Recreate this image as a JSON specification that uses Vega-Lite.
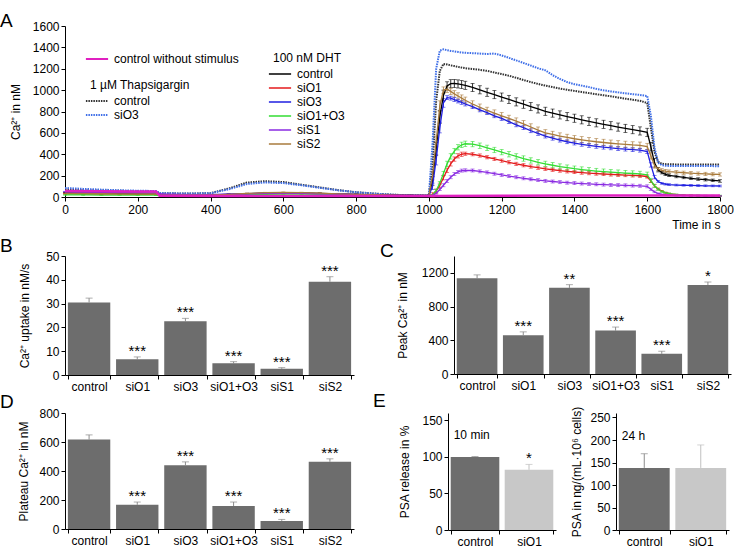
{
"$schema":"https://vega.github.io/schema/vega-lite/v6.json",
"padding":{"left":0,"top":12,"right":0,"bottom":0},
"config":{"font":"Liberation Sans","view":{"stroke":null},
"axis":{"grid":false,"domainColor":"black","tickColor":"black","labelColor":"black","titleColor":"black","labelFontSize":12,"titleFontSize":12,"titleFontWeight":"normal","tickSize":4,"labelPadding":2,"labelOverlap":false,"labelFlush":false},
"title":{"fontSize":19,"fontWeight":"normal","anchor":"start","frame":"group","baseline":"alphabetic","color":"black"},
"legend":{"labelFontSize":12,"titleFontSize":12,"titleFontWeight":"normal","labelColor":"black","titleColor":"black"}},
"datasets":{
"proto":[{"ph":1,"p":"0.5 Ca","t0":0,"t1":250,"lx":68},{"ph":2,"p":"0 Ca","t0":250,"t1":380,"lx":258},{"ph":3,"p":"0 Ca + stimulus","t0":380,"t1":1020,"lx":400},{"ph":4,"p":"2 Ca + stimulus","t0":1020,"t1":1600,"lx":1033},{"ph":5,"p":"0 Ca + stimulus","t0":1600,"t1":1800,"lx":1611}],
"ns":[{"s":"control without stimulus","t":0,"v":55},{"s":"control without stimulus","t":100,"v":53},{"s":"control without stimulus","t":200,"v":52},{"s":"control without stimulus","t":250,"v":51},{"s":"control without stimulus","t":260,"v":12},{"s":"control without stimulus","t":400,"v":10},{"s":"control without stimulus","t":600,"v":9},{"s":"control without stimulus","t":800,"v":9},{"s":"control without stimulus","t":1000,"v":10},{"s":"control without stimulus","t":1200,"v":12},{"s":"control without stimulus","t":1400,"v":13},{"s":"control without stimulus","t":1600,"v":14},{"s":"control without stimulus","t":1800,"v":14}],
"tg":[
{"s":"control","t":0,"v":70},{"s":"control","t":50,"v":65},{"s":"control","t":100,"v":61},{"s":"control","t":150,"v":58},{"s":"control","t":200,"v":55},{"s":"control","t":250,"v":52},{"s":"control","t":260,"v":36},{"s":"control","t":300,"v":34},{"s":"control","t":350,"v":33},{"s":"control","t":400,"v":36},{"s":"control","t":450,"v":80},{"s":"control","t":500,"v":135},{"s":"control","t":550,"v":148},{"s":"control","t":600,"v":140},{"s":"control","t":650,"v":115},{"s":"control","t":700,"v":90},{"s":"control","t":750,"v":65},{"s":"control","t":800,"v":45},{"s":"control","t":850,"v":32},{"s":"control","t":900,"v":22},{"s":"control","t":950,"v":15},{"s":"control","t":1000,"v":12},
{"s":"control","t":1010,"v":300},{"s":"control","t":1020,"v":900},{"s":"control","t":1030,"v":1180},{"s":"control","t":1040,"v":1245},{"s":"control","t":1050,"v":1240},{"s":"control","t":1060,"v":1232},{"s":"control","t":1070,"v":1225},{"s":"control","t":1080,"v":1218},{"s":"control","t":1090,"v":1211},{"s":"control","t":1100,"v":1205},
{"s":"control","t":1120,"v":1198},{"s":"control","t":1140,"v":1190},{"s":"control","t":1160,"v":1180},{"s":"control","t":1180,"v":1165},{"s":"control","t":1200,"v":1150},{"s":"control","t":1220,"v":1135},{"s":"control","t":1240,"v":1115},{"s":"control","t":1260,"v":1095},{"s":"control","t":1280,"v":1075},{"s":"control","t":1300,"v":1058},{"s":"control","t":1320,"v":1042},{"s":"control","t":1340,"v":1028},{"s":"control","t":1360,"v":1015},{"s":"control","t":1380,"v":1003},{"s":"control","t":1400,"v":993},{"s":"control","t":1420,"v":982},{"s":"control","t":1440,"v":972},{"s":"control","t":1460,"v":962},{"s":"control","t":1480,"v":952},{"s":"control","t":1500,"v":942},{"s":"control","t":1520,"v":931},{"s":"control","t":1540,"v":920},{"s":"control","t":1560,"v":910},{"s":"control","t":1580,"v":900},{"s":"control","t":1600,"v":880},
{"s":"control","t":1610,"v":650},{"s":"control","t":1620,"v":420},{"s":"control","t":1630,"v":330},{"s":"control","t":1640,"v":312},{"s":"control","t":1650,"v":308},{"s":"control","t":1660,"v":306},{"s":"control","t":1680,"v":305},{"s":"control","t":1700,"v":305},{"s":"control","t":1720,"v":305},{"s":"control","t":1740,"v":305},{"s":"control","t":1760,"v":304},{"s":"control","t":1780,"v":304},{"s":"control","t":1800,"v":304},
{"s":"siO3","t":0,"v":85},{"s":"siO3","t":50,"v":76},{"s":"siO3","t":100,"v":69},{"s":"siO3","t":150,"v":63},{"s":"siO3","t":200,"v":59},{"s":"siO3","t":250,"v":56},{"s":"siO3","t":260,"v":37},{"s":"siO3","t":300,"v":34},{"s":"siO3","t":350,"v":33},{"s":"siO3","t":400,"v":35},{"s":"siO3","t":450,"v":72},{"s":"siO3","t":500,"v":122},{"s":"siO3","t":550,"v":136},{"s":"siO3","t":600,"v":130},{"s":"siO3","t":650,"v":110},{"s":"siO3","t":700,"v":86},{"s":"siO3","t":750,"v":63},{"s":"siO3","t":800,"v":44},{"s":"siO3","t":850,"v":31},{"s":"siO3","t":900,"v":21},{"s":"siO3","t":950,"v":14},{"s":"siO3","t":1000,"v":12},
{"s":"siO3","t":1010,"v":500},{"s":"siO3","t":1020,"v":1200},{"s":"siO3","t":1030,"v":1370},{"s":"siO3","t":1040,"v":1382},{"s":"siO3","t":1050,"v":1374},{"s":"siO3","t":1060,"v":1367},{"s":"siO3","t":1070,"v":1362},{"s":"siO3","t":1080,"v":1357},{"s":"siO3","t":1090,"v":1352},{"s":"siO3","t":1100,"v":1349},
{"s":"siO3","t":1120,"v":1346},{"s":"siO3","t":1140,"v":1342},{"s":"siO3","t":1160,"v":1338},{"s":"siO3","t":1180,"v":1342},{"s":"siO3","t":1200,"v":1325},{"s":"siO3","t":1220,"v":1302},{"s":"siO3","t":1240,"v":1278},{"s":"siO3","t":1260,"v":1254},{"s":"siO3","t":1280,"v":1230},{"s":"siO3","t":1300,"v":1205},{"s":"siO3","t":1320,"v":1185},{"s":"siO3","t":1340,"v":1140},{"s":"siO3","t":1360,"v":1105},{"s":"siO3","t":1380,"v":1075},{"s":"siO3","t":1400,"v":1055},{"s":"siO3","t":1420,"v":1042},{"s":"siO3","t":1440,"v":1028},{"s":"siO3","t":1460,"v":1012},{"s":"siO3","t":1480,"v":998},{"s":"siO3","t":1500,"v":988},{"s":"siO3","t":1520,"v":979},{"s":"siO3","t":1540,"v":970},{"s":"siO3","t":1560,"v":962},{"s":"siO3","t":1580,"v":955},{"s":"siO3","t":1600,"v":945},
{"s":"siO3","t":1610,"v":760},{"s":"siO3","t":1620,"v":460},{"s":"siO3","t":1630,"v":320},{"s":"siO3","t":1640,"v":298},{"s":"siO3","t":1650,"v":293},{"s":"siO3","t":1660,"v":291},{"s":"siO3","t":1680,"v":290},{"s":"siO3","t":1700,"v":290},{"s":"siO3","t":1720,"v":290},{"s":"siO3","t":1740,"v":289},{"s":"siO3","t":1760,"v":289},{"s":"siO3","t":1780,"v":289},{"s":"siO3","t":1800,"v":288}],
"dht":[
{"s":"control","t":0,"v":40,"e":3},{"s":"control","t":50,"v":38,"e":3},{"s":"control","t":100,"v":36,"e":3},{"s":"control","t":150,"v":34,"e":3},{"s":"control","t":200,"v":32,"e":3},{"s":"control","t":250,"v":30,"e":3},{"s":"control","t":260,"v":22,"e":3},{"s":"control","t":300,"v":20,"e":3},{"s":"control","t":350,"v":19,"e":3},{"s":"control","t":400,"v":20,"e":3},{"s":"control","t":450,"v":24,"e":3},{"s":"control","t":500,"v":30,"e":3},{"s":"control","t":550,"v":36,"e":3},{"s":"control","t":600,"v":40,"e":3},{"s":"control","t":650,"v":38,"e":3},{"s":"control","t":700,"v":34,"e":3},{"s":"control","t":750,"v":29,"e":3},{"s":"control","t":800,"v":24,"e":3},{"s":"control","t":850,"v":20,"e":3},{"s":"control","t":900,"v":17,"e":3},{"s":"control","t":950,"v":15,"e":3},{"s":"control","t":1000,"v":14,"e":3},
{"s":"control","t":1010,"v":150,"e":40},{"s":"control","t":1020,"v":450,"e":60},{"s":"control","t":1030,"v":750,"e":60},{"s":"control","t":1040,"v":950,"e":50},{"s":"control","t":1050,"v":1040,"e":38},{"s":"control","t":1060,"v":1060,"e":38},{"s":"control","t":1070,"v":1062,"e":38},{"s":"control","t":1080,"v":1058,"e":38},{"s":"control","t":1090,"v":1052,"e":38},{"s":"control","t":1100,"v":1045,"e":38},
{"s":"control","t":1120,"v":1025,"e":38},{"s":"control","t":1140,"v":1003,"e":38},{"s":"control","t":1160,"v":980,"e":38},{"s":"control","t":1180,"v":958,"e":38},{"s":"control","t":1200,"v":935,"e":38},{"s":"control","t":1220,"v":913,"e":38},{"s":"control","t":1240,"v":890,"e":38},{"s":"control","t":1260,"v":868,"e":38},{"s":"control","t":1280,"v":846,"e":38},{"s":"control","t":1300,"v":824,"e":38},{"s":"control","t":1320,"v":802,"e":38},{"s":"control","t":1340,"v":785,"e":38},{"s":"control","t":1360,"v":768,"e":38},{"s":"control","t":1380,"v":752,"e":38},{"s":"control","t":1400,"v":737,"e":38},{"s":"control","t":1420,"v":722,"e":38},{"s":"control","t":1440,"v":708,"e":38},{"s":"control","t":1460,"v":694,"e":38},{"s":"control","t":1480,"v":680,"e":38},{"s":"control","t":1500,"v":667,"e":38},{"s":"control","t":1520,"v":654,"e":38},{"s":"control","t":1540,"v":642,"e":38},{"s":"control","t":1560,"v":630,"e":38},{"s":"control","t":1580,"v":618,"e":38},{"s":"control","t":1600,"v":605,"e":38},
{"s":"control","t":1610,"v":470,"e":40},{"s":"control","t":1620,"v":320,"e":40},{"s":"control","t":1630,"v":255,"e":20},{"s":"control","t":1640,"v":228,"e":12},{"s":"control","t":1650,"v":212,"e":12},{"s":"control","t":1660,"v":203,"e":12},{"s":"control","t":1680,"v":192,"e":12},{"s":"control","t":1700,"v":183,"e":12},{"s":"control","t":1720,"v":175,"e":12},{"s":"control","t":1740,"v":168,"e":12},{"s":"control","t":1760,"v":162,"e":12},{"s":"control","t":1780,"v":156,"e":12},{"s":"control","t":1800,"v":150,"e":12},
{"s":"siO1","t":0,"v":30,"e":3},{"s":"siO1","t":50,"v":28,"e":3},{"s":"siO1","t":100,"v":27,"e":3},{"s":"siO1","t":150,"v":26,"e":3},{"s":"siO1","t":200,"v":25,"e":3},{"s":"siO1","t":250,"v":24,"e":3},{"s":"siO1","t":260,"v":18,"e":3},{"s":"siO1","t":300,"v":15,"e":3},{"s":"siO1","t":350,"v":14,"e":3},{"s":"siO1","t":400,"v":15,"e":3},{"s":"siO1","t":450,"v":20,"e":3},{"s":"siO1","t":500,"v":28,"e":3},{"s":"siO1","t":550,"v":35,"e":3},{"s":"siO1","t":600,"v":38,"e":3},{"s":"siO1","t":650,"v":36,"e":3},{"s":"siO1","t":700,"v":32,"e":3},{"s":"siO1","t":750,"v":27,"e":3},{"s":"siO1","t":800,"v":22,"e":3},{"s":"siO1","t":850,"v":18,"e":3},{"s":"siO1","t":900,"v":15,"e":3},{"s":"siO1","t":950,"v":13,"e":3},{"s":"siO1","t":1000,"v":12,"e":3},
{"s":"siO1","t":1010,"v":20,"e":20},{"s":"siO1","t":1020,"v":55,"e":20},{"s":"siO1","t":1030,"v":110,"e":20},{"s":"siO1","t":1040,"v":180,"e":20},{"s":"siO1","t":1050,"v":250,"e":20},{"s":"siO1","t":1060,"v":310,"e":20},{"s":"siO1","t":1070,"v":355,"e":20},{"s":"siO1","t":1080,"v":385,"e":20},{"s":"siO1","t":1090,"v":400,"e":20},{"s":"siO1","t":1100,"v":405,"e":15},
{"s":"siO1","t":1120,"v":400,"e":15},{"s":"siO1","t":1140,"v":388,"e":15},{"s":"siO1","t":1160,"v":372,"e":15},{"s":"siO1","t":1180,"v":356,"e":15},{"s":"siO1","t":1200,"v":340,"e":15},{"s":"siO1","t":1220,"v":325,"e":15},{"s":"siO1","t":1240,"v":310,"e":15},{"s":"siO1","t":1260,"v":297,"e":15},{"s":"siO1","t":1280,"v":285,"e":15},{"s":"siO1","t":1300,"v":274,"e":15},{"s":"siO1","t":1320,"v":264,"e":15},{"s":"siO1","t":1340,"v":255,"e":15},{"s":"siO1","t":1360,"v":247,"e":15},{"s":"siO1","t":1380,"v":240,"e":15},{"s":"siO1","t":1400,"v":234,"e":15},{"s":"siO1","t":1420,"v":228,"e":15},{"s":"siO1","t":1440,"v":223,"e":15},{"s":"siO1","t":1460,"v":219,"e":15},{"s":"siO1","t":1480,"v":215,"e":15},{"s":"siO1","t":1500,"v":211,"e":15},{"s":"siO1","t":1520,"v":208,"e":15},{"s":"siO1","t":1540,"v":205,"e":15},{"s":"siO1","t":1560,"v":202,"e":15},{"s":"siO1","t":1580,"v":199,"e":15},{"s":"siO1","t":1600,"v":192,"e":15},
{"s":"siO1","t":1610,"v":150,"e":15},{"s":"siO1","t":1620,"v":105,"e":12},{"s":"siO1","t":1630,"v":75,"e":8},{"s":"siO1","t":1640,"v":55,"e":6},{"s":"siO1","t":1650,"v":40,"e":5},{"s":"siO1","t":1660,"v":32,"e":5},{"s":"siO1","t":1680,"v":22,"e":4},{"s":"siO1","t":1700,"v":17,"e":4},{"s":"siO1","t":1720,"v":14,"e":4},{"s":"siO1","t":1740,"v":12,"e":4},{"s":"siO1","t":1760,"v":11,"e":4},{"s":"siO1","t":1780,"v":10,"e":4},{"s":"siO1","t":1800,"v":10,"e":4},
{"s":"siO3","t":0,"v":45,"e":3},{"s":"siO3","t":50,"v":42,"e":3},{"s":"siO3","t":100,"v":40,"e":3},{"s":"siO3","t":150,"v":38,"e":3},{"s":"siO3","t":200,"v":36,"e":3},{"s":"siO3","t":250,"v":34,"e":3},{"s":"siO3","t":260,"v":25,"e":3},{"s":"siO3","t":300,"v":22,"e":3},{"s":"siO3","t":350,"v":21,"e":3},{"s":"siO3","t":400,"v":22,"e":3},{"s":"siO3","t":450,"v":26,"e":3},{"s":"siO3","t":500,"v":32,"e":3},{"s":"siO3","t":550,"v":36,"e":3},{"s":"siO3","t":600,"v":38,"e":3},{"s":"siO3","t":650,"v":36,"e":3},{"s":"siO3","t":700,"v":32,"e":3},{"s":"siO3","t":750,"v":28,"e":3},{"s":"siO3","t":800,"v":24,"e":3},{"s":"siO3","t":850,"v":20,"e":3},{"s":"siO3","t":900,"v":17,"e":3},{"s":"siO3","t":950,"v":15,"e":3},{"s":"siO3","t":1000,"v":14,"e":3},
{"s":"siO3","t":1010,"v":100,"e":30},{"s":"siO3","t":1020,"v":350,"e":50},{"s":"siO3","t":1030,"v":650,"e":50},{"s":"siO3","t":1040,"v":880,"e":40},{"s":"siO3","t":1050,"v":930,"e":18},{"s":"siO3","t":1060,"v":925,"e":18},{"s":"siO3","t":1070,"v":912,"e":18},{"s":"siO3","t":1080,"v":898,"e":18},{"s":"siO3","t":1090,"v":885,"e":18},{"s":"siO3","t":1100,"v":870,"e":18},
{"s":"siO3","t":1120,"v":845,"e":18},{"s":"siO3","t":1140,"v":815,"e":18},{"s":"siO3","t":1160,"v":790,"e":18},{"s":"siO3","t":1180,"v":760,"e":18},{"s":"siO3","t":1200,"v":735,"e":18},{"s":"siO3","t":1220,"v":705,"e":18},{"s":"siO3","t":1240,"v":675,"e":18},{"s":"siO3","t":1260,"v":650,"e":18},{"s":"siO3","t":1280,"v":620,"e":18},{"s":"siO3","t":1300,"v":595,"e":18},{"s":"siO3","t":1320,"v":570,"e":18},{"s":"siO3","t":1340,"v":550,"e":18},{"s":"siO3","t":1360,"v":532,"e":18},{"s":"siO3","t":1380,"v":517,"e":18},{"s":"siO3","t":1400,"v":505,"e":18},{"s":"siO3","t":1420,"v":493,"e":18},{"s":"siO3","t":1440,"v":483,"e":18},{"s":"siO3","t":1460,"v":474,"e":18},{"s":"siO3","t":1480,"v":466,"e":18},{"s":"siO3","t":1500,"v":460,"e":18},{"s":"siO3","t":1520,"v":453,"e":18},{"s":"siO3","t":1540,"v":448,"e":18},{"s":"siO3","t":1560,"v":443,"e":18},{"s":"siO3","t":1580,"v":438,"e":18},{"s":"siO3","t":1600,"v":425,"e":18},
{"s":"siO3","t":1610,"v":300,"e":20},{"s":"siO3","t":1620,"v":185,"e":15},{"s":"siO3","t":1630,"v":145,"e":8},{"s":"siO3","t":1640,"v":128,"e":8},{"s":"siO3","t":1650,"v":120,"e":8},{"s":"siO3","t":1660,"v":116,"e":8},{"s":"siO3","t":1680,"v":112,"e":8},{"s":"siO3","t":1700,"v":110,"e":8},{"s":"siO3","t":1720,"v":108,"e":8},{"s":"siO3","t":1740,"v":107,"e":8},{"s":"siO3","t":1760,"v":105,"e":8},{"s":"siO3","t":1780,"v":104,"e":8},{"s":"siO3","t":1800,"v":103,"e":8},
{"s":"siO1+O3","t":0,"v":20,"e":3},{"s":"siO1+O3","t":50,"v":19,"e":3},{"s":"siO1+O3","t":100,"v":18,"e":3},{"s":"siO1+O3","t":150,"v":18,"e":3},{"s":"siO1+O3","t":200,"v":17,"e":3},{"s":"siO1+O3","t":250,"v":17,"e":3},{"s":"siO1+O3","t":260,"v":14,"e":3},{"s":"siO1+O3","t":300,"v":12,"e":3},{"s":"siO1+O3","t":350,"v":12,"e":3},{"s":"siO1+O3","t":400,"v":12,"e":3},{"s":"siO1+O3","t":450,"v":15,"e":3},{"s":"siO1+O3","t":500,"v":20,"e":3},{"s":"siO1+O3","t":550,"v":25,"e":3},{"s":"siO1+O3","t":600,"v":28,"e":3},{"s":"siO1+O3","t":650,"v":27,"e":3},{"s":"siO1+O3","t":700,"v":24,"e":3},{"s":"siO1+O3","t":750,"v":20,"e":3},{"s":"siO1+O3","t":800,"v":17,"e":3},{"s":"siO1+O3","t":850,"v":14,"e":3},{"s":"siO1+O3","t":900,"v":12,"e":3},{"s":"siO1+O3","t":950,"v":11,"e":3},{"s":"siO1+O3","t":1000,"v":10,"e":3},
{"s":"siO1+O3","t":1010,"v":20,"e":5},{"s":"siO1+O3","t":1020,"v":60,"e":10},{"s":"siO1+O3","t":1030,"v":130,"e":15},{"s":"siO1+O3","t":1040,"v":220,"e":20},{"s":"siO1+O3","t":1050,"v":310,"e":25},{"s":"siO1+O3","t":1060,"v":380,"e":25},{"s":"siO1+O3","t":1070,"v":430,"e":25},{"s":"siO1+O3","t":1080,"v":465,"e":25},{"s":"siO1+O3","t":1090,"v":488,"e":25},{"s":"siO1+O3","t":1100,"v":498,"e":25},
{"s":"siO1+O3","t":1120,"v":495,"e":25},{"s":"siO1+O3","t":1140,"v":480,"e":25},{"s":"siO1+O3","t":1160,"v":460,"e":25},{"s":"siO1+O3","t":1180,"v":440,"e":25},{"s":"siO1+O3","t":1200,"v":420,"e":25},{"s":"siO1+O3","t":1220,"v":400,"e":25},{"s":"siO1+O3","t":1240,"v":380,"e":25},{"s":"siO1+O3","t":1260,"v":360,"e":25},{"s":"siO1+O3","t":1280,"v":342,"e":25},{"s":"siO1+O3","t":1300,"v":325,"e":25},{"s":"siO1+O3","t":1320,"v":310,"e":25},{"s":"siO1+O3","t":1340,"v":297,"e":25},{"s":"siO1+O3","t":1360,"v":285,"e":25},{"s":"siO1+O3","t":1380,"v":275,"e":25},{"s":"siO1+O3","t":1400,"v":265,"e":25},{"s":"siO1+O3","t":1420,"v":257,"e":25},{"s":"siO1+O3","t":1440,"v":250,"e":25},{"s":"siO1+O3","t":1460,"v":243,"e":25},{"s":"siO1+O3","t":1480,"v":237,"e":25},{"s":"siO1+O3","t":1500,"v":232,"e":25},{"s":"siO1+O3","t":1520,"v":228,"e":25},{"s":"siO1+O3","t":1540,"v":224,"e":25},{"s":"siO1+O3","t":1560,"v":220,"e":25},{"s":"siO1+O3","t":1580,"v":216,"e":25},{"s":"siO1+O3","t":1600,"v":208,"e":25},
{"s":"siO1+O3","t":1610,"v":155,"e":20},{"s":"siO1+O3","t":1620,"v":105,"e":15},{"s":"siO1+O3","t":1630,"v":72,"e":10},{"s":"siO1+O3","t":1640,"v":52,"e":8},{"s":"siO1+O3","t":1650,"v":40,"e":5},{"s":"siO1+O3","t":1660,"v":32,"e":5},{"s":"siO1+O3","t":1680,"v":23,"e":5},{"s":"siO1+O3","t":1700,"v":18,"e":5},{"s":"siO1+O3","t":1720,"v":15,"e":5},{"s":"siO1+O3","t":1740,"v":14,"e":5},{"s":"siO1+O3","t":1760,"v":13,"e":5},{"s":"siO1+O3","t":1780,"v":12,"e":5},{"s":"siO1+O3","t":1800,"v":12,"e":5},
{"s":"siS1","t":0,"v":50,"e":3},{"s":"siS1","t":50,"v":47,"e":3},{"s":"siS1","t":100,"v":45,"e":3},{"s":"siS1","t":150,"v":43,"e":3},{"s":"siS1","t":200,"v":41,"e":3},{"s":"siS1","t":250,"v":39,"e":3},{"s":"siS1","t":260,"v":28,"e":3},{"s":"siS1","t":300,"v":24,"e":3},{"s":"siS1","t":350,"v":22,"e":3},{"s":"siS1","t":400,"v":22,"e":3},{"s":"siS1","t":450,"v":25,"e":3},{"s":"siS1","t":500,"v":30,"e":3},{"s":"siS1","t":550,"v":34,"e":3},{"s":"siS1","t":600,"v":35,"e":3},{"s":"siS1","t":650,"v":33,"e":3},{"s":"siS1","t":700,"v":30,"e":3},{"s":"siS1","t":750,"v":26,"e":3},{"s":"siS1","t":800,"v":22,"e":3},{"s":"siS1","t":850,"v":18,"e":3},{"s":"siS1","t":900,"v":15,"e":3},{"s":"siS1","t":950,"v":13,"e":3},{"s":"siS1","t":1000,"v":12,"e":3},
{"s":"siS1","t":1010,"v":15,"e":5},{"s":"siS1","t":1020,"v":35,"e":8},{"s":"siS1","t":1030,"v":70,"e":10},{"s":"siS1","t":1040,"v":110,"e":14},{"s":"siS1","t":1050,"v":150,"e":14},{"s":"siS1","t":1060,"v":185,"e":14},{"s":"siS1","t":1070,"v":215,"e":14},{"s":"siS1","t":1080,"v":235,"e":14},{"s":"siS1","t":1090,"v":247,"e":14},{"s":"siS1","t":1100,"v":250,"e":14},
{"s":"siS1","t":1120,"v":248,"e":14},{"s":"siS1","t":1140,"v":240,"e":14},{"s":"siS1","t":1160,"v":230,"e":14},{"s":"siS1","t":1180,"v":218,"e":14},{"s":"siS1","t":1200,"v":207,"e":14},{"s":"siS1","t":1220,"v":196,"e":14},{"s":"siS1","t":1240,"v":185,"e":14},{"s":"siS1","t":1260,"v":175,"e":14},{"s":"siS1","t":1280,"v":166,"e":14},{"s":"siS1","t":1300,"v":158,"e":14},{"s":"siS1","t":1320,"v":151,"e":14},{"s":"siS1","t":1340,"v":145,"e":14},{"s":"siS1","t":1360,"v":139,"e":14},{"s":"siS1","t":1380,"v":134,"e":14},{"s":"siS1","t":1400,"v":130,"e":14},{"s":"siS1","t":1420,"v":126,"e":14},{"s":"siS1","t":1440,"v":122,"e":14},{"s":"siS1","t":1460,"v":119,"e":14},{"s":"siS1","t":1480,"v":116,"e":14},{"s":"siS1","t":1500,"v":113,"e":14},{"s":"siS1","t":1520,"v":111,"e":14},{"s":"siS1","t":1540,"v":109,"e":14},{"s":"siS1","t":1560,"v":107,"e":14},{"s":"siS1","t":1580,"v":105,"e":14},{"s":"siS1","t":1600,"v":100,"e":14},
{"s":"siS1","t":1610,"v":72,"e":10},{"s":"siS1","t":1620,"v":48,"e":8},{"s":"siS1","t":1630,"v":33,"e":4},{"s":"siS1","t":1640,"v":24,"e":4},{"s":"siS1","t":1650,"v":19,"e":4},{"s":"siS1","t":1660,"v":16,"e":4},{"s":"siS1","t":1680,"v":14,"e":4},{"s":"siS1","t":1700,"v":13,"e":4},{"s":"siS1","t":1720,"v":12,"e":4},{"s":"siS1","t":1740,"v":12,"e":4},{"s":"siS1","t":1760,"v":11,"e":4},{"s":"siS1","t":1780,"v":11,"e":4},{"s":"siS1","t":1800,"v":11,"e":4},
{"s":"siS2","t":0,"v":35,"e":4},{"s":"siS2","t":50,"v":33,"e":4},{"s":"siS2","t":100,"v":31,"e":4},{"s":"siS2","t":150,"v":30,"e":4},{"s":"siS2","t":200,"v":29,"e":4},{"s":"siS2","t":250,"v":28,"e":4},{"s":"siS2","t":260,"v":20,"e":4},{"s":"siS2","t":300,"v":18,"e":4},{"s":"siS2","t":350,"v":17,"e":4},{"s":"siS2","t":400,"v":18,"e":4},{"s":"siS2","t":450,"v":24,"e":4},{"s":"siS2","t":500,"v":33,"e":4},{"s":"siS2","t":550,"v":40,"e":4},{"s":"siS2","t":600,"v":43,"e":4},{"s":"siS2","t":650,"v":41,"e":4},{"s":"siS2","t":700,"v":36,"e":4},{"s":"siS2","t":750,"v":30,"e":4},{"s":"siS2","t":800,"v":25,"e":4},{"s":"siS2","t":850,"v":21,"e":4},{"s":"siS2","t":900,"v":18,"e":4},{"s":"siS2","t":950,"v":15,"e":4},{"s":"siS2","t":1000,"v":14,"e":4},
{"s":"siS2","t":1010,"v":200,"e":40},{"s":"siS2","t":1020,"v":520,"e":50},{"s":"siS2","t":1030,"v":850,"e":50},{"s":"siS2","t":1040,"v":1000,"e":30},{"s":"siS2","t":1050,"v":1008,"e":30},{"s":"siS2","t":1060,"v":988,"e":30},{"s":"siS2","t":1070,"v":965,"e":30},{"s":"siS2","t":1080,"v":945,"e":30},{"s":"siS2","t":1090,"v":925,"e":30},{"s":"siS2","t":1100,"v":905,"e":30},
{"s":"siS2","t":1120,"v":870,"e":30},{"s":"siS2","t":1140,"v":840,"e":30},{"s":"siS2","t":1160,"v":810,"e":30},{"s":"siS2","t":1180,"v":785,"e":30},{"s":"siS2","t":1200,"v":760,"e":30},{"s":"siS2","t":1220,"v":735,"e":30},{"s":"siS2","t":1240,"v":710,"e":30},{"s":"siS2","t":1260,"v":685,"e":30},{"s":"siS2","t":1280,"v":655,"e":30},{"s":"siS2","t":1300,"v":625,"e":30},{"s":"siS2","t":1320,"v":600,"e":30},{"s":"siS2","t":1340,"v":585,"e":30},{"s":"siS2","t":1360,"v":570,"e":30},{"s":"siS2","t":1380,"v":557,"e":30},{"s":"siS2","t":1400,"v":545,"e":30},{"s":"siS2","t":1420,"v":535,"e":30},{"s":"siS2","t":1440,"v":526,"e":30},{"s":"siS2","t":1460,"v":517,"e":30},{"s":"siS2","t":1480,"v":510,"e":30},{"s":"siS2","t":1500,"v":503,"e":30},{"s":"siS2","t":1520,"v":497,"e":30},{"s":"siS2","t":1540,"v":492,"e":30},{"s":"siS2","t":1560,"v":487,"e":30},{"s":"siS2","t":1580,"v":484,"e":30},{"s":"siS2","t":1600,"v":472,"e":30},
{"s":"siS2","t":1610,"v":385,"e":30},{"s":"siS2","t":1620,"v":295,"e":25},{"s":"siS2","t":1630,"v":262,"e":15},{"s":"siS2","t":1640,"v":250,"e":15},{"s":"siS2","t":1650,"v":243,"e":15},{"s":"siS2","t":1660,"v":238,"e":15},{"s":"siS2","t":1680,"v":232,"e":15},{"s":"siS2","t":1700,"v":227,"e":15},{"s":"siS2","t":1720,"v":223,"e":15},{"s":"siS2","t":1740,"v":219,"e":15},{"s":"siS2","t":1760,"v":216,"e":15},{"s":"siS2","t":1780,"v":213,"e":15},{"s":"siS2","t":1800,"v":211,"e":15}]
},
"spacing":7,
"vconcat":[
{"width":655,"height":171,
 "title":{"text":"A","dx":-65,"offset":-1,"dy":10},
 "encoding":{
  "x":{"field":"t","type":"quantitative","scale":{"domain":[0,1800],"nice":false},"axis":{"values":[0,200,400,600,800,1000,1200,1400,1600,1800],"format":"d","title":"Time in s","titleAnchor":"end","titlePadding":4,"labelPadding":3}},
  "y":{"field":"v","type":"quantitative","scale":{"domain":[0,1600],"nice":false},"axis":{"values":[0,200,400,600,800,1000,1200,1400,1600],"format":"d","title":"Ca²⁺ in nM","titlePadding":10}}
 },
 "layer":[
  {"data":{"name":"proto"},"mark":{"type":"rule","strokeWidth":1.3,"color":"black"},"encoding":{"x":{"field":"t0","type":"quantitative"},"x2":{"field":"t1"},"y":{"datum":1500},"strokeDash":{"field":"ph","type":"ordinal","scale":{"domain":[1,2,3,4,5],"range":[[1,0],[1.5,1],[6,2,1.5,2],[4,1.5],[1.5,1]]},"legend":null}}},
  {"data":{"name":"proto"},"mark":{"type":"text","align":"left","baseline":"middle","fontSize":9},"encoding":{"x":{"field":"lx","type":"quantitative"},"y":{"datum":1572},"text":{"field":"p"}}},
  {"data":{"name":"tg"},"mark":{"type":"line","strokeWidth":2,"strokeDash":[1.5,1]},"encoding":{"color":{"field":"s","type":"nominal","scale":{"domain":["control","siO3"],"range":["#333333","#3f6fe8"]},"legend":{"title":"1 µM Thapsigargin","orient":"none","legendX":25,"legendY":54,"symbolType":"M-1.85,0H1.85","symbolSize":144,"symbolStrokeWidth":2,"symbolDash":[1.5,1],"titlePadding":2,"rowPadding":1,"labelOffset":10}}}},
  {"data":{"name":"dht"},"mark":{"type":"errorbar","ticks":{"size":4},"thickness":0.8},"encoding":{"yError":{"field":"e"},"color":{"field":"s","type":"nominal","scale":{"domain":["control","siO1","siO3","siO1+O3","siS1","siS2"],"range":["#000000","#e41a1c","#1f1fe0","#33dd33","#8a2be2","#a97b3c"]},"legend":null}}},
  {"data":{"name":"dht"},"mark":{"type":"line","strokeWidth":1.3},"encoding":{"color":{"field":"s","type":"nominal","scale":{"domain":["control","siO1","siO3","siO1+O3","siS1","siS2"],"range":["#000000","#e41a1c","#1f1fe0","#33dd33","#8a2be2","#a97b3c"]},"legend":{"title":"100 nM DHT","orient":"none","legendX":208,"legendY":27,"symbolType":"M-1.85,0H1.85","symbolSize":144,"symbolStrokeWidth":1.5,"titlePadding":2,"rowPadding":1,"labelOffset":10}}}},
  {"data":{"name":"ns"},"mark":{"type":"line","strokeWidth":2.5},"encoding":{"color":{"field":"s","type":"nominal","scale":{"domain":["control without stimulus"],"range":["#e020c0"]},"legend":{"title":null,"orient":"none","legendX":25,"legendY":26,"symbolType":"M-1.85,0H1.85","symbolSize":144,"symbolStrokeWidth":2,"labelOffset":10}}}}
 ],
 "resolve":{"scale":{"color":"independent"}}
},
{"spacing":0,"vconcat":[
{"hconcat":[
 {"width":289,"height":119,"title":{"text":"B","dx":-65,"offset":2,"dy":8},
  "data":{"values":[{"c":"control","v":30.5,"hi":32.3,"sig":""},{"c":"siO1","v":6.6,"hi":7.6,"sig":"***"},{"c":"siO3","v":22.6,"hi":23.8,"sig":"***"},{"c":"siO1+O3","v":4.9,"hi":5.6,"sig":"***"},{"c":"siS1","v":2.6,"hi":3.1,"sig":"***"},{"c":"siS2","v":39.2,"hi":41.3,"sig":"***"}]},
  "encoding":{"x":{"field":"c","type":"nominal","sort":null,"scale":{"paddingInner":0.12,"paddingOuter":0.06},"axis":{"title":null,"labelAngle":0,"tickBand":"extent"}}},
  "layer":[
   {"mark":{"type":"rule","color":"#8c8c8c"},"encoding":{"y":{"field":"v","type":"quantitative","scale":{"domain":[0,50]},"axis":{"values":[0,10,20,30,40,50],"format":"d","title":"Ca²⁺ uptake in nM/s","titlePadding":14}},"y2":{"field":"hi"}}},
   {"mark":{"type":"tick","color":"#8c8c8c","size":7,"thickness":1},"encoding":{"y":{"field":"hi","type":"quantitative","axis":{"values":[0,10,20,30,40,50],"format":"d","title":"Ca²⁺ uptake in nM/s","titlePadding":14}}}},
   {"mark":{"type":"bar","color":"#6d6d6d"},"encoding":{"y":{"field":"v","type":"quantitative","axis":{"values":[0,10,20,30,40,50],"format":"d","title":"Ca²⁺ uptake in nM/s","titlePadding":14}}}},
   {"mark":{"type":"text","baseline":"alphabetic","dy":-1,"fontSize":15},"encoding":{"y":{"field":"hi","type":"quantitative","axis":{"values":[0,10,20,30,40,50],"format":"d","title":"Ca²⁺ uptake in nM/s","titlePadding":14}},"text":{"field":"sig"}}}
  ]},
 {"width":277,"height":118,"title":{"text":"C","dx":-74,"offset":3,"dy":8},
  "data":{"values":[{"c":"control","v":1136,"hi":1176,"sig":""},{"c":"siO1","v":461,"hi":500,"sig":"***"},{"c":"siO3","v":1022,"hi":1060,"sig":"**"},{"c":"siO1+O3","v":515,"hi":557,"sig":"***"},{"c":"siS1","v":240,"hi":270,"sig":"***"},{"c":"siS2","v":1055,"hi":1092,"sig":"*"}]},
  "encoding":{"x":{"field":"c","type":"nominal","sort":null,"scale":{"paddingInner":0.12,"paddingOuter":0.06},"axis":{"title":null,"labelAngle":0,"tickBand":"extent"}}},
  "layer":[
   {"mark":{"type":"rule","color":"#8c8c8c"},"encoding":{"y":{"field":"v","type":"quantitative","scale":{"domain":[0,1400],"nice":false},"axis":{"values":[0,400,800,1200],"format":"d","title":"Peak Ca²⁺ in nM","titlePadding":12}},"y2":{"field":"hi"}}},
   {"mark":{"type":"tick","color":"#8c8c8c","size":7,"thickness":1},"encoding":{"y":{"field":"hi","type":"quantitative","axis":{"values":[0,400,800,1200],"format":"d","title":"Peak Ca²⁺ in nM","titlePadding":12}}}},
   {"mark":{"type":"bar","color":"#6d6d6d"},"encoding":{"y":{"field":"v","type":"quantitative","axis":{"values":[0,400,800,1200],"format":"d","title":"Peak Ca²⁺ in nM","titlePadding":12}}}},
   {"mark":{"type":"text","baseline":"alphabetic","dy":-1,"fontSize":15},"encoding":{"y":{"field":"hi","type":"quantitative","axis":{"values":[0,400,800,1200],"format":"d","title":"Peak Ca²⁺ in nM","titlePadding":12}},"text":{"field":"sig"}}}
  ]}
 ],"bounds":"flush","spacing":100},
{"hconcat":[
 {"width":289,"height":116,"title":{"text":"D","dx":-65,"offset":5,"dy":10},
  "data":{"values":[{"c":"control","v":617,"hi":649,"sig":""},{"c":"siO1","v":167,"hi":186,"sig":"***"},{"c":"siO3","v":440,"hi":463,"sig":"***"},{"c":"siO1+O3","v":158,"hi":186,"sig":"***"},{"c":"siS1","v":56,"hi":66,"sig":"***"},{"c":"siS2","v":464,"hi":484,"sig":"***"}]},
  "encoding":{"x":{"field":"c","type":"nominal","sort":null,"scale":{"paddingInner":0.12,"paddingOuter":0.06},"axis":{"title":null,"labelAngle":0,"tickBand":"extent"}}},
  "layer":[
   {"mark":{"type":"rule","color":"#8c8c8c"},"encoding":{"y":{"field":"v","type":"quantitative","scale":{"domain":[0,800]},"axis":{"values":[0,200,400,600,800],"format":"d","title":"Plateau Ca²⁺ in nM","titlePadding":8}},"y2":{"field":"hi"}}},
   {"mark":{"type":"tick","color":"#8c8c8c","size":7,"thickness":1},"encoding":{"y":{"field":"hi","type":"quantitative","axis":{"values":[0,200,400,600,800],"format":"d","title":"Plateau Ca²⁺ in nM","titlePadding":8}}}},
   {"mark":{"type":"bar","color":"#6d6d6d"},"encoding":{"y":{"field":"v","type":"quantitative","axis":{"values":[0,200,400,600,800],"format":"d","title":"Plateau Ca²⁺ in nM","titlePadding":8}}}},
   {"mark":{"type":"text","baseline":"alphabetic","dy":-1,"fontSize":15},"encoding":{"y":{"field":"hi","type":"quantitative","axis":{"values":[0,200,400,600,800],"format":"d","title":"Plateau Ca²⁺ in nM","titlePadding":8}},"text":{"field":"sig"}}}
  ]},
 {"hconcat":[
  {"width":108,"height":117,
   "data":{"values":[{"c":"control","v":100,"hi":100.5,"sig":""},{"c":"siO1","v":82.3,"hi":89.7,"sig":"*"}]},
   "encoding":{"x":{"field":"c","type":"nominal","sort":null,"scale":{"paddingInner":0.1,"paddingOuter":0.05},"axis":{"title":null,"labelAngle":0,"tickBand":"extent"}}},
   "layer":[
    {"mark":{"type":"rule"},"encoding":{"y":{"field":"v","type":"quantitative","scale":{"domain":[0,150]},"axis":{"values":[0,50,100,150],"format":"d","title":"PSA release in %","titlePadding":10}},"y2":{"field":"hi"},"color":{"field":"c","type":"nominal","scale":{"domain":["control","siO1"],"range":["#8c8c8c","#c0c0c0"]},"legend":null}}},
    {"mark":{"type":"tick","size":7,"thickness":1},"encoding":{"y":{"field":"hi","type":"quantitative","axis":{"values":[0,50,100,150],"format":"d","title":"PSA release in %","titlePadding":10}},"color":{"field":"c","type":"nominal","scale":{"domain":["control","siO1"],"range":["#8c8c8c","#c0c0c0"]},"legend":null}}},
    {"mark":{"type":"bar"},"encoding":{"y":{"field":"v","type":"quantitative","axis":{"values":[0,50,100,150],"format":"d","title":"PSA release in %","titlePadding":10}},"fill":{"field":"c","type":"nominal","scale":{"domain":["control","siO1"],"range":["#6d6d6d","#c8c8c8"]},"legend":null}}},
    {"mark":{"type":"text","baseline":"alphabetic","dy":-1,"fontSize":15},"encoding":{"y":{"field":"hi","type":"quantitative","axis":{"values":[0,50,100,150],"format":"d","title":"PSA release in %","titlePadding":10}},"text":{"field":"sig"}}},
    {"data":{"values":[{}]},"mark":{"type":"text","align":"left","baseline":"middle","fontSize":12,"dx":3},"encoding":{"x":{"datum":"control","bandPosition":0},"y":{"datum":130,"axis":{"values":[0,50,100,150],"format":"d","title":"PSA release in %","titlePadding":10}},"text":{"value":"10 min"}}}
   ]},
  {"width":113,"height":117,
   "data":{"values":[{"c":"control","v":138,"hi":169.5,"sig":""},{"c":"siO1","v":138,"hi":189,"sig":""}]},
   "encoding":{"x":{"field":"c","type":"nominal","sort":null,"scale":{"paddingInner":0.1,"paddingOuter":0.05},"axis":{"title":null,"labelAngle":0,"tickBand":"extent"}}},
   "layer":[
    {"mark":{"type":"rule"},"encoding":{"y":{"field":"v","type":"quantitative","scale":{"domain":[0,250]},"axis":{"values":[0,50,100,150,200,250],"format":"d","title":"PSA in ng/(mL·10⁶ cells)","titlePadding":6}},"y2":{"field":"hi"},"color":{"field":"c","type":"nominal","scale":{"domain":["control","siO1"],"range":["#8c8c8c","#c0c0c0"]},"legend":null}}},
    {"mark":{"type":"tick","size":7,"thickness":1},"encoding":{"y":{"field":"hi","type":"quantitative","axis":{"values":[0,50,100,150,200,250],"format":"d","title":"PSA in ng/(mL·10⁶ cells)","titlePadding":6}},"color":{"field":"c","type":"nominal","scale":{"domain":["control","siO1"],"range":["#8c8c8c","#c0c0c0"]},"legend":null}}},
    {"mark":{"type":"bar"},"encoding":{"y":{"field":"v","type":"quantitative","axis":{"values":[0,50,100,150,200,250],"format":"d","title":"PSA in ng/(mL·10⁶ cells)","titlePadding":6}},"fill":{"field":"c","type":"nominal","scale":{"domain":["control","siO1"],"range":["#6d6d6d","#c8c8c8"]},"legend":null}}},
    {"data":{"values":[{}]},"mark":{"type":"text","align":"left","baseline":"middle","fontSize":12,"dx":3},"encoding":{"x":{"datum":"control","bandPosition":0},"y":{"datum":210,"axis":{"values":[0,50,100,150,200,250],"format":"d","title":"PSA in ng/(mL·10⁶ cells)","titlePadding":6}},"text":{"value":"24 h"}}}
   ]}
  ],"bounds":"flush","spacing":60,"title":{"text":"E","dx":-75,"offset":19,"dy":24}}
 ],"bounds":"flush","spacing":94}
]}
]
}
